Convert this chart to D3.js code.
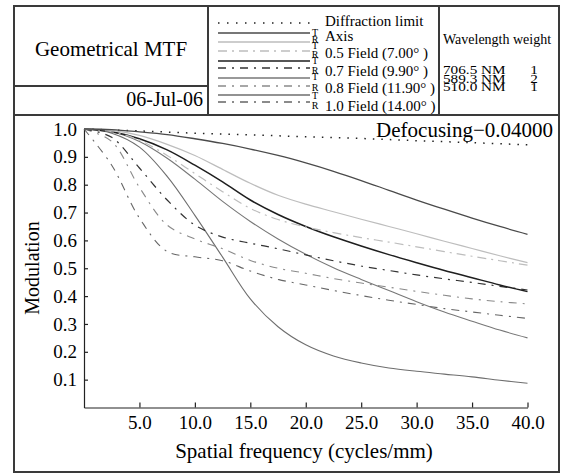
<!DOCTYPE html>
<html><head><meta charset="utf-8">
<script src="https://cdn.jsdelivr.net/npm/d3@7"></script>
<style>body{margin:0;background:#fff}svg{display:block}text{font-family:"Liberation Serif","Times New Roman",serif;fill:#000}</style>
</head><body><svg id="c" width="567" height="474"></svg>
<script>
// ---- data ----
const freq = [0,2.5,5,7.5,10,12.5,15,17.5,20,22.5,25,27.5,30,32.5,35,37.5,40];
const diffFreq = [0,5,10,15,20,25,30,35,40];
const diffLimit = [1.0,0.993,0.985,0.979,0.972,0.966,0.958,0.951,0.943];
const axisMTF   = [1,0.998,0.99,0.98,0.965,0.948,0.928,0.905,0.878,0.848,0.815,0.78,0.745,0.712,0.68,0.65,0.622];
const lightSolid= [1,0.995,0.977,0.945,0.905,0.855,0.805,0.762,0.73,0.703,0.676,0.65,0.624,0.597,0.571,0.545,0.52];
const lightDD   = [1,0.99,0.96,0.905,0.84,0.775,0.715,0.675,0.648,0.628,0.61,0.594,0.577,0.56,0.543,0.527,0.511];
const blackSolid= [1,0.99,0.965,0.925,0.87,0.81,0.745,0.693,0.65,0.613,0.58,0.549,0.52,0.492,0.466,0.44,0.416];
const darkDD    = [1,0.97,0.86,0.745,0.655,0.612,0.59,0.57,0.548,0.527,0.508,0.492,0.476,0.462,0.449,0.435,0.422];
const graySolid = [1,0.99,0.955,0.895,0.82,0.74,0.668,0.605,0.55,0.502,0.46,0.42,0.38,0.343,0.31,0.278,0.25];
const midDD     = [1,0.955,0.79,0.655,0.605,0.57,0.528,0.5,0.482,0.463,0.447,0.432,0.417,0.403,0.39,0.38,0.372];
const steepSolid= [1,0.985,0.935,0.83,0.69,0.54,0.39,0.29,0.225,0.185,0.16,0.142,0.13,0.12,0.11,0.098,0.087];
const lowDD     = [1,0.87,0.68,0.56,0.541,0.527,0.49,0.46,0.44,0.42,0.402,0.385,0.37,0.355,0.343,0.331,0.32];
const xTicks = [5,10,15,20,25,30,35,40];
const yTicks = [0.1,0.2,0.3,0.4,0.5,0.6,0.7,0.8,0.9,1.0];
const legendFields = ["Axis","0.5 Field (7.00°  )","0.7 Field (9.90°  )","0.8 Field (11.90°  )","1.0 Field (14.00°  )"];
const wavelengths = ["706.5 NM","589.3 NM","510.0 NM"];
const weights = ["1","2","1"];

// ---- styles (order = legend order) ----
const series = [
  {v:axisMTF,   c:"#4a4a4a", w:1.3, d:null},
  {v:lightSolid,c:"#bdbdbd", w:1.2, d:null},
  {v:lightDD,   c:"#bdbdbd", w:1.2, d:"9,5,2,5"},
  {v:blackSolid,c:"#1e1e1e", w:1.5, d:null},
  {v:darkDD,    c:"#333",    w:1.2, d:"8,6,2,6"},
  {v:graySolid, c:"#777",    w:1.1, d:null},
  {v:midDD,     c:"#8a8a8a", w:1.1, d:"8,6,2,6"},
  {v:steepSolid,c:"#6e6e6e", w:1.1, d:null},
  {v:lowDD,     c:"#666",    w:1.1, d:"8,6,2,6"}
];

const svg = d3.select("#c");
const x = d3.scaleLinear().domain([0,40]).range([84,527.5]);
const y = d3.scaleLinear().domain([0,1]).range([407.5,129]);

// frame
const fr = svg.append("g").attr("stroke","#3a3a3a").attr("stroke-width",2).attr("fill","none");
fr.append("rect").attr("x",14).attr("y",6).attr("width",545).attr("height",466);
fr.append("line").attr("x1",14).attr("x2",559).attr("y1",115).attr("y2",115);
fr.append("line").attr("x1",208).attr("x2",208).attr("y1",6).attr("y2",115);
fr.append("line").attr("x1",439).attr("x2",439).attr("y1",6).attr("y2",115);
fr.append("line").attr("x1",14).attr("x2",208).attr("y1",86).attr("y2",86);

svg.append("text").attr("x",111).attr("y",56).attr("text-anchor","middle").attr("font-size",21).text("Geometrical MTF");
svg.append("text").attr("x",203).attr("y",106).attr("text-anchor","end").attr("font-size",20).text("06-Jul-06");

// legend
const lg = svg.append("g");
const lineYs = [33,42,51,61,68,78,86,95,102];
lg.append("line").attr("x1",218).attr("x2",310).attr("y1",23).attr("y2",23)
  .attr("stroke","#222").attr("stroke-width",1.5).attr("stroke-dasharray","1.5,7.5");
series.forEach((s,i)=>{
  lg.append("line").attr("x1",218).attr("x2",310).attr("y1",lineYs[i]).attr("y2",lineYs[i])
    .attr("stroke",s.c).attr("stroke-width",s.w+0.2).attr("stroke-dasharray",s.d);
});
const trYs = [32,39,45,54,60,70,76,87,95,105];
trYs.forEach((yy,i)=>{
  lg.append("text").attr("x",315).attr("y",yy).attr("dy","0.35em").attr("text-anchor","middle")
    .attr("font-size",10).text(i%2===0?"T":"R");
});
lg.append("text").attr("x",325).attr("y",21).attr("dy","0.35em").attr("font-size",15).text("Diffraction limit");
const fieldYs = [36,53,71,88,106];
legendFields.forEach((f,i)=>{
  lg.append("text").attr("x",325).attr("y",fieldYs[i]).attr("dy","0.35em").attr("font-size",15).text(f);
});
svg.append("text").attr("x",443).attr("y",44).attr("font-size",14).text("Wavelength weight");
wavelengths.forEach((w,i)=>{
  svg.append("text").attr("transform",`translate(443,${74+i*8.6}) scale(1.22,1)`).attr("font-size",12.5).text(w);
  svg.append("text").attr("transform",`translate(534,${74+i*8.6}) scale(1.22,1)`).attr("text-anchor","middle").attr("font-size",12.5).text(weights[i]);
});

// axes
const xa = svg.append("g").attr("transform","translate(0,407.5)")
  .call(d3.axisBottom(x).tickValues(xTicks).tickSize(-5).tickSizeOuter(0).tickPadding(8).tickFormat(d3.format(".1f")));
const ya = svg.append("g").attr("transform","translate(84,0)")
  .call(d3.axisLeft(y).tickValues(yTicks).tickSize(-4).tickSizeOuter(0).tickPadding(7).tickFormat(d3.format(".1f")));
[xa,ya].forEach(a=>{
  a.selectAll("path,line").attr("stroke","#222").attr("stroke-width",1.2);
  a.selectAll("text").attr("font-size",19).attr("fill","#000");
});

svg.append("text").attr("x",304).attr("y",458).attr("text-anchor","middle").attr("font-size",21).text("Spatial frequency (cycles/mm)");
svg.append("text").attr("transform","translate(39,268) rotate(-90)").attr("text-anchor","middle").attr("font-size",20).text("Modulation");
svg.append("text").attr("x",553).attr("y",137).attr("text-anchor","end").attr("font-size",21).text("Defocusing\u22120.04000");

// curves
const line = d3.line().x(d=>x(d[0])).y(d=>y(d[1])).curve(d3.curveCatmullRom.alpha(0.5));
svg.append("path").attr("d",line(diffFreq.map((f,i)=>[f,diffLimit[i]])))
  .attr("fill","none").attr("stroke","#222").attr("stroke-width",1.5).attr("stroke-dasharray","1.5,7");
series.slice().reverse().forEach(s=>{
  svg.append("path").attr("d",line(freq.map((f,i)=>[f,s.v[i]])))
    .attr("fill","none").attr("stroke",s.c).attr("stroke-width",s.w).attr("stroke-dasharray",s.d);
});
</script></body></html>
